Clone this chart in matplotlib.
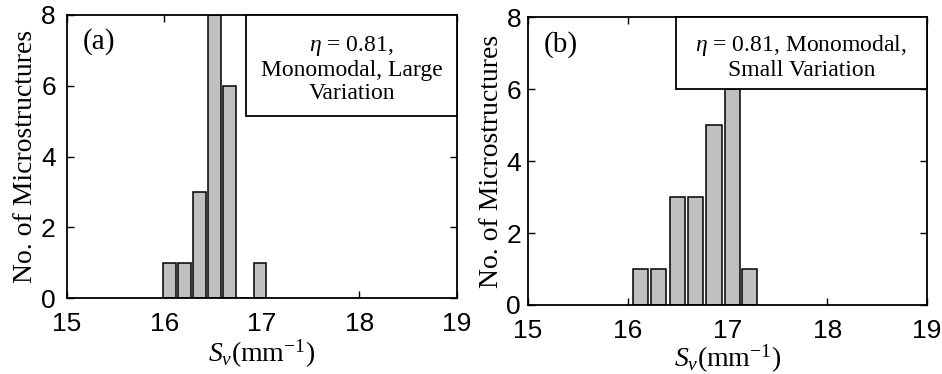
import numpy as np
import matplotlib
matplotlib.use("Agg")
from matplotlib import pyplot as plt
from matplotlib.patches import Rectangle

# bin centres (mm^-1) and number of microstructures per bin
sv_a = [16.05, 16.205, 16.36, 16.515, 16.67, 16.825, 16.98]
count_a = [1, 1, 3, 8, 6, 0, 1]
sv_b = [16.125, 16.31, 16.495, 16.68, 16.865, 17.05, 17.225]
count_b = [1, 1, 3, 3, 5, 6, 1]

xticks = [15, 16, 17, 18, 19]
yticks = [0, 2, 4, 6, 8]

plt.rcParams["mathtext.fontset"] = "custom"
plt.rcParams["mathtext.rm"] = "Liberation Serif"
plt.rcParams["mathtext.it"] = "Liberation Serif:italic"

serif = "Liberation Serif"
sans = "Liberation Sans"

fig = plt.figure(figsize=(9.42, 3.74), dpi=100)
ax1 = fig.add_axes([0.071, 0.203, 0.414, 0.757])
ax2 = fig.add_axes([0.5605, 0.1845, 0.4235, 0.770])


def draw_panel(ax, sv, counts, tag, note, box, xpad, ypad, lpad):
    width = 0.83 * np.diff(sv).mean()
    ax.bar(sv, counts, width=width, color="#c0c0c0", edgecolor="black",
           linewidth=1.1, zorder=2)
    ax.set_xlim(15, 19)
    ax.set_ylim(0, 8)
    ax.set_xticks(xticks)
    ax.set_yticks(yticks)
    ax.tick_params(direction="in", top=True, right=True, length=5, width=1,
                   labelsize=19)
    ax.tick_params(axis="x", pad=xpad)
    ax.tick_params(axis="y", pad=ypad)
    for lab in ax.get_xticklabels() + ax.get_yticklabels():
        lab.set_fontfamily(sans)
    for s in ax.spines.values():
        s.set_linewidth(1.3)
    ax.set_xlabel(r"$S_v$(mm$^{\mathregular{-1}}$)", fontsize=20,
                  fontfamily=serif, labelpad=lpad)
    ax.set_ylabel("No. of Microstructures", fontsize=20, fontfamily=serif,
                  labelpad=2)
    ax.text(0.04, 0.905, tag, transform=ax.transAxes, fontsize=21,
            fontfamily=serif, va="center", ha="left")
    x0, y0 = box
    ax.add_patch(Rectangle((x0, y0), 19 - x0, 8 - y0, facecolor="white",
                           edgecolor="black", linewidth=1.3, zorder=3,
                           clip_on=False))
    ax.text((x0 + 19) / 2, (y0 + 8) / 2 - 0.1, note, fontsize=17,
            fontfamily=serif, ha="center", va="center", linespacing=1.12,
            zorder=4)


draw_panel(ax1, sv_a, count_a, "(a)",
           "$\\eta$ = 0.81,\nMonomodal, Large\nVariation", (16.84, 5.14),
           xpad=10, ypad=8, lpad=1)
draw_panel(ax2, sv_b, count_b, "(b)",
           "$\\eta$ = 0.81, Monomodal,\nSmall Variation", (16.48, 6.0),
           xpad=10, ypad=5, lpad=0)

fig.savefig("out.png", dpi=100)
